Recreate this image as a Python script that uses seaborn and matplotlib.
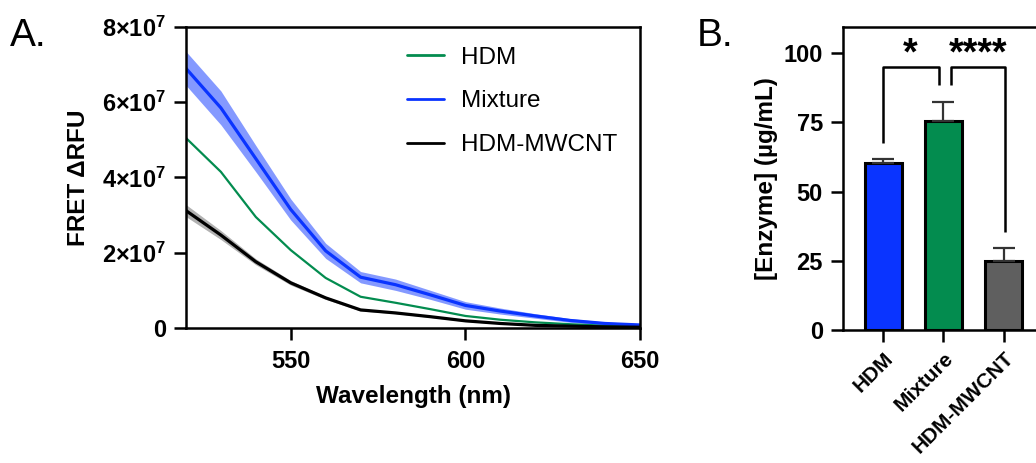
import matplotlib
matplotlib.use("Agg")
import matplotlib.pyplot as plt
import pandas as pd
import seaborn as sns

# Panel A: FRET spectra (mean and SD, in units of 1e7 RFU)
wavelength = [520, 530, 540, 550, 560, 570, 580, 590, 600, 610, 620, 630, 640, 650]
hdm_mean = [5.05, 4.15, 2.95, 2.07, 1.33, 0.83, 0.67, 0.50, 0.32, 0.22, 0.15, 0.10, 0.06, 0.03]
mix_mean = [6.90, 5.85, 4.50, 3.15, 2.05, 1.35, 1.15, 0.88, 0.60, 0.45, 0.32, 0.20, 0.12, 0.08]
mix_sd = [0.45, 0.45, 0.35, 0.28, 0.20, 0.15, 0.15, 0.12, 0.10, 0.08, 0.06, 0.05, 0.04, 0.04]
mwcnt_mean = [3.12, 2.47, 1.76, 1.20, 0.80, 0.48, 0.40, 0.30, 0.19, 0.12, 0.07, 0.05, 0.03, 0.02]
mwcnt_sd = [0.16, 0.12, 0.08, 0.06, 0.04, 0.03, 0.02, 0.02, 0.02, 0.01, 0.01, 0.01, 0.01, 0.01]
a_yticks = [0, 2e7, 4e7, 6e7, 8e7]
a_yticklabels = ["0", "2×10$^{7}$", "4×10$^{7}$", "6×10$^{7}$", "8×10$^{7}$"]

# Panel B: enzyme concentration
groups = ["HDM", "Mixture", "HDM-MWCNT"]
enzyme = [60.3, 75.5, 25.0]
enzyme_err = [1.4, 7.0, 4.5]

green = "#038c4f"
blue = "#0a34ff"
grey = "#5f5f5f"

sns.set_theme(style="ticks")
plt.rcParams["font.family"] = ["Liberation Sans", "DejaVu Sans"]
plt.rcParams["mathtext.default"] = "regular"
plt.rcParams["axes.linewidth"] = 1.8
plt.rcParams["xtick.major.width"] = 1.8
plt.rcParams["ytick.major.width"] = 1.8
plt.rcParams["xtick.major.size"] = 8.5
plt.rcParams["ytick.major.size"] = 8.5
plt.rcParams["xtick.major.pad"] = 7
plt.rcParams["ytick.major.pad"] = 6
for key in ["axes.edgecolor", "text.color", "axes.labelcolor", "xtick.color", "ytick.color"]:
    plt.rcParams[key] = "black"

fig = plt.figure(figsize=(10.36, 4.63), dpi=100)
ax1 = fig.add_axes([0.1795, 0.2916, 0.4383, 0.6501])
ax2 = fig.add_axes([0.8137, 0.2873, 0.194, 0.6544])

# ---- Panel A
spec = pd.DataFrame({
    "Wavelength": wavelength * 3,
    "RFU": [v * 1e7 for v in hdm_mean + mix_mean + mwcnt_mean],
    "Sample": ["HDM"] * 14 + ["Mixture"] * 14 + ["HDM-MWCNT"] * 14,
})
mix_lo = [(m - s) * 1e7 for m, s in zip(mix_mean, mix_sd)]
mix_hi = [(m + s) * 1e7 for m, s in zip(mix_mean, mix_sd)]
mw_lo = [(m - s) * 1e7 for m, s in zip(mwcnt_mean, mwcnt_sd)]
mw_hi = [(m + s) * 1e7 for m, s in zip(mwcnt_mean, mwcnt_sd)]
ax1.fill_between(wavelength, mix_lo, mix_hi, color=blue, alpha=0.5, lw=0)
ax1.fill_between(wavelength, mw_lo, mw_hi, color="black", alpha=0.3, lw=0)
sns.lineplot(data=spec, x="Wavelength", y="RFU", hue="Sample",
             palette={"HDM": green, "Mixture": blue, "HDM-MWCNT": "black"},
             ax=ax1, errorbar=None)
for line, lw in zip(ax1.lines, [1.6, 2.3, 2.3]):
    line.set_linewidth(lw)

ax1.set_xlim(520, 650)
ax1.set_ylim(0, 8e7)
ax1.set_xticks([550, 600, 650])
ax1.set_yticks(a_yticks)
ax1.set_yticklabels(a_yticklabels)
ax1.tick_params(labelsize=17)
for lab in ax1.get_xticklabels() + ax1.get_yticklabels():
    lab.set_fontweight("bold")
ax1.set_xlabel("Wavelength (nm)", fontsize=17.5, fontweight="bold", labelpad=9)
ax1.set_ylabel("FRET ΔRFU", fontsize=17.5, fontweight="bold")
ax1.yaxis.set_label_coords(-0.211, 0.5)

leg = ax1.legend(loc="upper left", bbox_to_anchor=(0.487, 0.935), frameon=False,
                 fontsize=17.5, handlelength=1.5, handletextpad=0.7,
                 borderpad=0, borderaxespad=0, labelspacing=0.9)
for h in leg.get_lines():
    h.set_linewidth(2.0)

# ---- Panel B
bars = pd.DataFrame({"Group": groups, "Enzyme": enzyme})
sns.barplot(data=bars, x="Group", y="Enzyme", hue="Group",
            palette=[blue, green, grey], saturation=1, width=0.62,
            edgecolor="black", linewidth=2.2, ax=ax2, legend=False)
ax2.errorbar(range(3), enzyme, yerr=[[0, 0, 0], enzyme_err], fmt="none",
             ecolor="#333333", elinewidth=1.6, capsize=8, capthick=1.6)

ax2.set_xlim(-0.67, 2.67)
ax2.set_ylim(0, 109.5)
ax2.set_yticks([0, 25, 50, 75, 100])
ax2.tick_params(axis="y", labelsize=17)
ax2.tick_params(axis="x", labelsize=15, pad=5)
ax2.set_xticks(range(3))
ax2.set_xticklabels(groups, rotation=45, ha="right", rotation_mode="anchor")
for lab in ax2.get_xticklabels() + ax2.get_yticklabels():
    lab.set_fontweight("bold")
ax2.set_xlabel("")
ax2.set_ylabel("[Enzyme] (µg/mL)", fontsize=17.5, fontweight="bold")
ax2.yaxis.set_label_coords(-0.323, 0.5)

# significance brackets
bk = dict(color="black", lw=1.8, solid_capstyle="butt", clip_on=False)
ax2.plot([0, 0, 0.92, 0.92], [67.5, 95, 95, 88.5], **bk)
ax2.plot([1.12, 1.12, 2.02, 2.02], [88.5, 95, 95, 35.5], **bk)
ax2.text(0.45, 95.8, "*", ha="center", va="baseline", fontsize=27, fontweight="bold")
ax2.text(1.57, 95.8, "****", ha="center", va="baseline", fontsize=27, fontweight="bold")

fig.text(0.010, 0.922, "A.", fontsize=28, va="center", ha="left")
fig.text(0.673, 0.922, "B.", fontsize=28, va="center", ha="left")

fig.savefig("out.png", dpi=100)
